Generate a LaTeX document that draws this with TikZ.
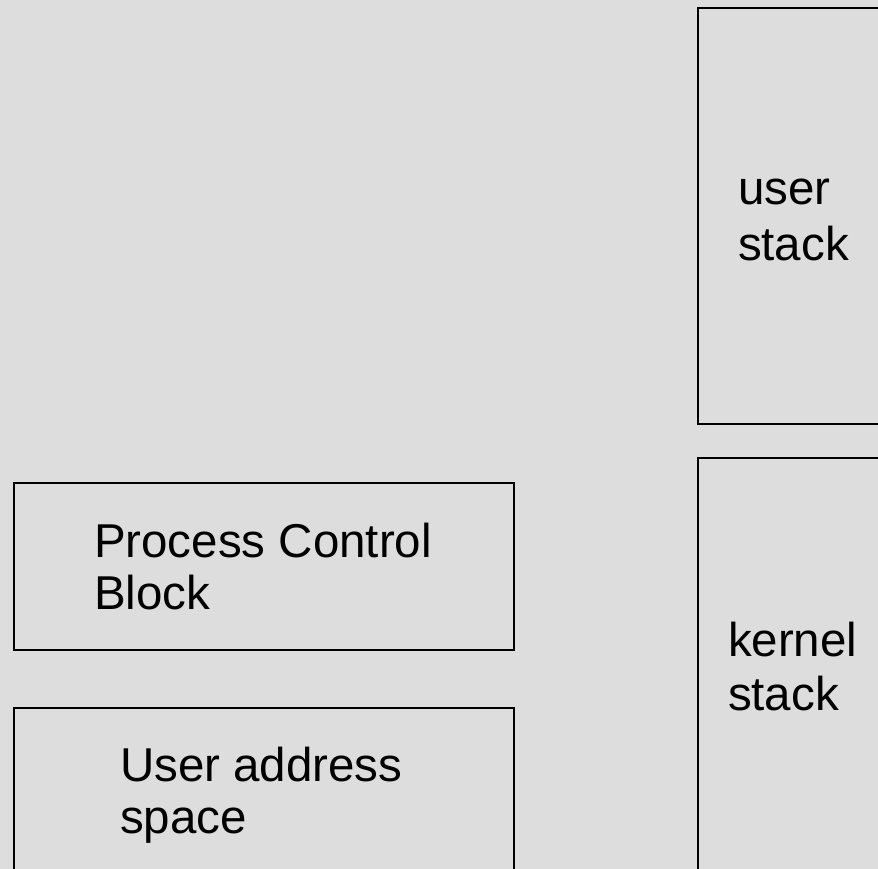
\documentclass[tikz,border=0pt]{standalone}
\usepackage{fontspec}
\setmainfont{Liberation Sans}
\definecolor{sheet}{HTML}{DDDDDD}
\tikzset{
  membox/.style={draw=black, line width=1.1pt, fill=none, rectangle,
    anchor=north west, inner sep=0pt, outer sep=0pt},
  % anchored at the baseline of the last line of the label
  memlabel/.style={anchor=base west, inner sep=0pt, outer sep=0pt,
    align=left, font=\fontsize{47.5}{53}\selectfont}
}
\begin{document}
\begin{tikzpicture}[x=1pt, y=-1pt]
  % page area and background
  \useasboundingbox (0,0) rectangle (878,869);
  \fill[sheet] (0,0) rectangle (878,869);
  \clip (0,0) rectangle (878,869);

  % memory regions (stacks and user area run off the page edge)
  \node[membox, minimum width=220pt, minimum height=416pt] (ustack) at (698,8) {};
  \node[membox, minimum width=220pt, minimum height=460pt] (kstack) at (698,458) {};
  \node[membox, minimum width=500pt, minimum height=167pt] (pcb) at (14,483) {};
  \node[membox, minimum width=500pt, minimum height=220pt] (uas) at (14,708) {};

  % labels
  \node[memlabel] (ustacklbl) at (738,260) {user\\[2pt]stack};
  \node[memlabel] (kstacklbl) at (728,710) {kernel\\[1pt]stack};
  \node[memlabel] (pcblbl) at (94,609) {Process Control\\[-1pt]Block};
  \node[memlabel] (uaslbl) at (120,833) {User address\\[-1pt]space};
\end{tikzpicture}
\end{document}
